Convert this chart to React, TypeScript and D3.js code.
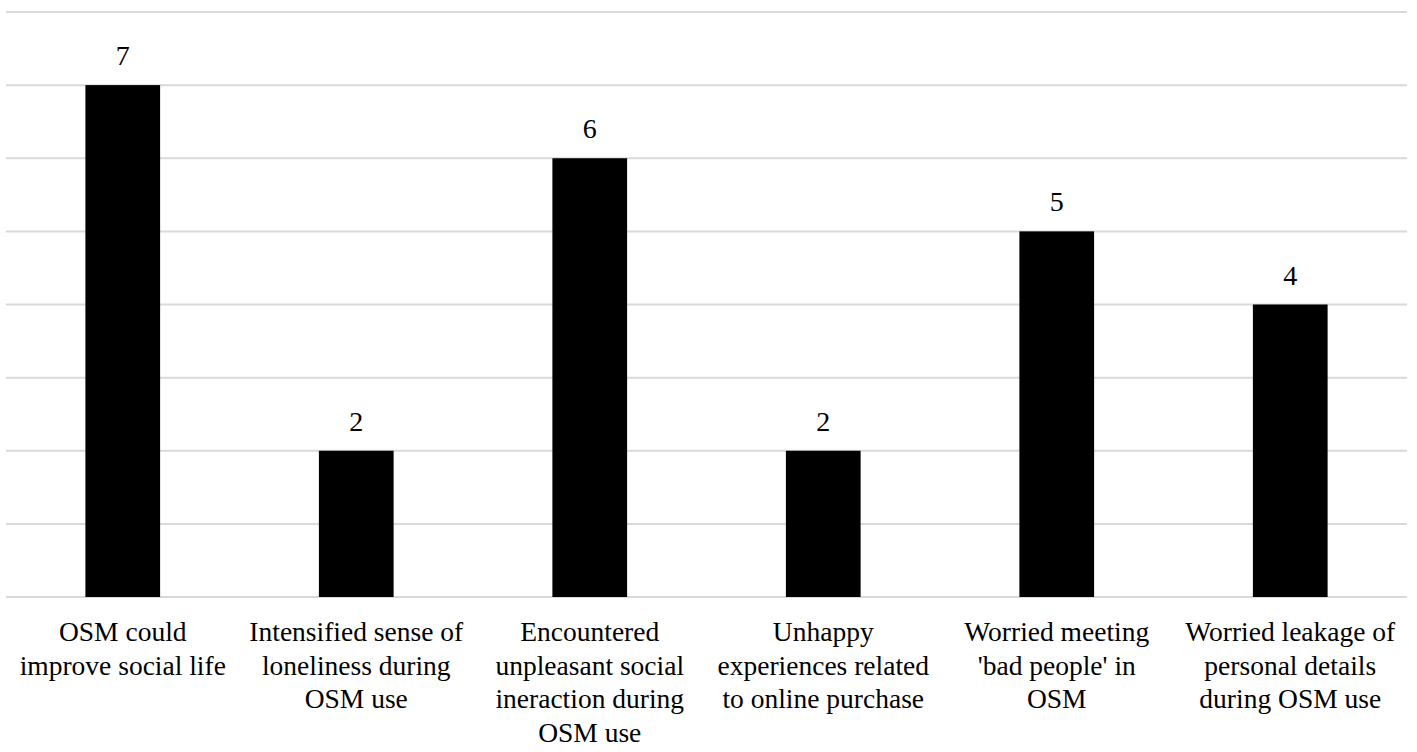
import React from "react";
import * as d3 from "d3";

const categories: string[][] = [
  ["OSM could", "improve social life"],
  ["Intensified sense of", "loneliness during", "OSM use"],
  ["Encountered", "unpleasant social", "ineraction during", "OSM use"],
  ["Unhappy", "experiences related", "to online purchase"],
  ["Worried meeting", "'bad people' in", "OSM"],
  ["Worried leakage of", "personal details", "during OSM use"],
];
const values: number[] = [7, 2, 6, 2, 5, 4];
const gridTicks: number[] = [0, 1, 2, 3, 4, 5, 6, 7, 8];

const W = 1417;
const H = 752;
const left = 6;
const right = 1407;
const top = 12;
const bottom = 597;

export default function App() {
  const x = d3
    .scaleBand<number>()
    .domain(values.map((_, i) => i))
    .range([left, right])
    .paddingInner(0.68)
    .paddingOuter(0.34);
  const y = d3.scaleLinear().domain([0, 8]).range([bottom, top]);
  const font = '"Times New Roman", "Liberation Serif", Tinos, "DejaVu Serif", serif';

  return (
    <svg
      width={W}
      height={H}
      style={{ position: "absolute", left: 0, top: 0, background: "#fff", fontFamily: font }}
    >
      {gridTicks.map((t) => (
        <line
          key={t}
          x1={left}
          x2={right}
          y1={y(t)}
          y2={y(t)}
          stroke="#d9d9d9"
          strokeWidth={2}
        />
      ))}
      {values.map((v, i) => (
        <g key={i}>
          <rect
            x={x(i)!}
            y={y(v)}
            width={x.bandwidth()}
            height={y(0) - y(v)}
            fill="#000"
          />
          <text
            x={x(i)! + x.bandwidth() / 2}
            y={y(v) - 20}
            textAnchor="middle"
            style={{ fontFamily: font, fontSize: 28 }}
            fill="#000"
          >
            {v}
          </text>
        </g>
      ))}
      {categories.map((lines, i) => (
        <text
          key={i}
          x={x(i)! + x.bandwidth() / 2}
          y={bottom + 44}
          textAnchor="middle"
          style={{ fontFamily: font, fontSize: 27.5 }}
          fill="#000"
        >
          {lines.map((l, j) => (
            <tspan key={j} x={x(i)! + x.bandwidth() / 2} dy={j === 0 ? 0 : 33.5}>
              {l}
            </tspan>
          ))}
        </text>
      ))}
    </svg>
  );
}
